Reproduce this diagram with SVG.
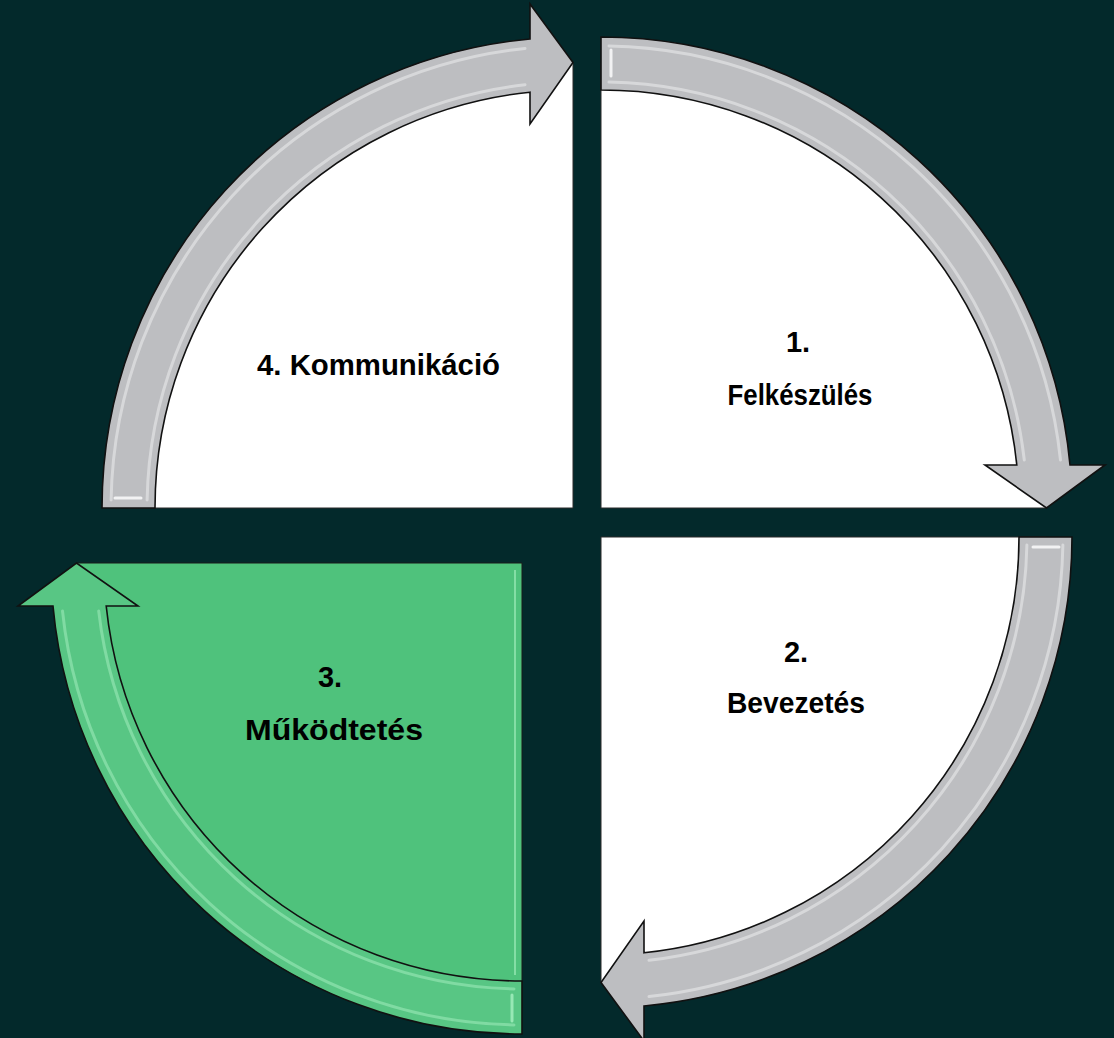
<svg xmlns="http://www.w3.org/2000/svg" width="1114" height="1038" viewBox="0 0 1114 1038">
<style>
.sector{fill:#ffffff;stroke:#2a2a2a;stroke-width:1}
.sector.green{fill:#4fc27c;stroke:#1a1a1a}
.arrow{fill:#bdbec1;stroke:#111;stroke-width:1.6;stroke-linejoin:miter}
.arrow.green{fill:#58c684}
.hl{fill:none;stroke:#ffffff;stroke-width:3;stroke-opacity:0.4;stroke-linecap:round}
.hl.green{stroke:#a8f0c2;stroke-opacity:0.5}
.lbl{font-family:"Liberation Sans",Arial,sans-serif;font-weight:bold;font-size:29px;fill:#000;text-anchor:middle}
</style>
<defs>
<path id="band" d="M 0,-471 A 471 471 0 0 1 469,-43 L 504,-43 L 445.5,0 L 384,-43 L 415.8,-43 A 418 418 0 0 0 0,-418 Z"/>
<path id="sec" d="M 0,0 L 0,-445 A 445 445 0 0 1 445,0 Z"/>
<g id="hls">
<path d="M 8,-425.9 A 426 426 0 0 1 423.3,-48"/>
<path d="M 8,-461.9 A 462 462 0 0 1 459.5,-48"/>
<path d="M 10,-458 L 10,-432" stroke-opacity="0.8"/>
</g>
</defs>
<rect width="1114" height="1038" fill="#03292b"/>
<g id="node-1">
<use href="#sec" class="sector" transform="translate(601,508)"/>
<text class="lbl" x="798" y="352">1.</text>
<text class="lbl" x="800" y="405" textLength="145" lengthAdjust="spacingAndGlyphs">Felkészülés</text>
</g>
<g id="node-2">
<use href="#sec" class="sector" transform="translate(601,537) rotate(90)"/>
<text class="lbl" x="796" y="662">2.</text>
<text class="lbl" x="796" y="713" textLength="138" lengthAdjust="spacingAndGlyphs">Bevezetés</text>
</g>
<g id="node-3">
<use href="#sec" class="sector green" transform="translate(522,563) rotate(180)"/>
<path d="M 515,570 L 515,975" stroke="#a8f0c2" stroke-width="2" stroke-opacity="0.6" fill="none"/>
<text class="lbl" x="330" y="687">3.</text>
<text class="lbl" x="334" y="740" textLength="178" lengthAdjust="spacingAndGlyphs">Működtetés</text>
</g>
<g id="node-4">
<use href="#sec" class="sector" transform="translate(573,508) rotate(270)"/>
<text class="lbl" x="378.5" y="375" textLength="243" lengthAdjust="spacingAndGlyphs">4. Kommunikáció</text>
</g>
<g id="connectors">
<g transform="translate(601,508)">
<use href="#band" class="arrow"/>
<use href="#hls" class="hl"/>
</g>
<g transform="translate(601,537) rotate(90)">
<use href="#band" class="arrow"/>
<use href="#hls" class="hl"/>
</g>
<g transform="translate(522,563) rotate(180)">
<use href="#band" class="arrow green"/>
<use href="#hls" class="hl green"/>
</g>
<g transform="translate(573,508) rotate(270)">
<use href="#band" class="arrow"/>
<use href="#hls" class="hl"/>
</g>
</g>
</svg>
